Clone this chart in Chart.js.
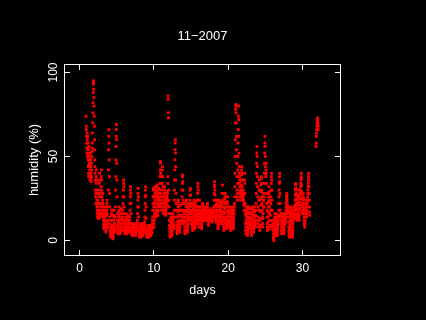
<!DOCTYPE html>
<html>
<head>
<meta charset="utf-8">
<title>11-2007</title>
<script src="https://cdn.jsdelivr.net/npm/chart.js@4/dist/chart.umd.min.js"></script>
<style>
  html, body { margin: 0; padding: 0; background: #000; }
  canvas { display: block; }
</style>
</head>
<body>
<canvas id="chart" width="426" height="320"></canvas>
<script>
// humidity readings, one every 30 minutes, starting late on day 0
const startDay = 0.875;
const stepDay = 1 / 48;
const humidity = [
  74, 68, 66, 62, 58, 55,
  52, 64, 60, 55, 50, 62, 58, 54, 48, 44, 40, 38, 45, 52, 56, 50, 46, 42, 38, 36, 40, 44, 48, 52, 48, 44, 40, 37, 35, 38, 42, 46, 50, 53, 55, 58, 64, 70, 76, 82, 88, 93, 95, 94, 90, 85, 80, 74,
  68, 60, 54, 48, 44, 40, 36, 30, 26, 22, 28, 34, 38, 42, 36, 30, 24, 20, 18, 16, 14, 20, 24, 28, 22, 18, 15, 13, 17, 22, 26, 30, 34, 40, 36, 28, 22, 18, 15, 14, 16, 20, 26, 32, 38, 42, 36, 30,
  26, 22, 18, 16, 20, 24, 28, 22, 18, 15, 14, 12, 10, 8, 7, 9, 12, 14, 16, 18, 20, 17, 14, 11, 9, 7, 6, 5, 7, 9, 12, 15, 18, 22, 24, 20, 16, 12, 10, 8, 12, 20, 30, 42, 54, 62, 66, 58,
  48, 38, 28, 20, 14, 10, 8, 6, 4, 3, 2, 3, 5, 8, 12, 16, 18, 15, 12, 9, 7, 5, 3, 2, 1, 2, 4, 6, 9, 12, 15, 18, 14, 10, 8, 6, 5, 7, 10, 14, 20, 30, 38, 48, 56, 62, 66, 69,
  60, 46, 36, 26, 16, 12, 9, 7, 5, 4, 6, 8, 11, 14, 17, 20, 18, 15, 12, 10, 8, 6, 5, 4, 6, 8, 10, 13, 16, 19, 16, 13, 10, 8, 7, 6, 8, 10, 12, 14, 18, 22, 26, 30, 34, 36, 32, 26,
  20, 16, 12, 10, 8, 6, 5, 4, 5, 7, 9, 12, 14, 16, 13, 10, 8, 6, 5, 4, 5, 6, 8, 10, 12, 14, 15, 12, 10, 8, 7, 6, 5, 6, 8, 10, 12, 14, 18, 22, 26, 30, 32, 28, 22, 16, 10, 7,
  6, 5, 4, 3, 4, 5, 6, 8, 9, 10, 8, 7, 5, 4, 3, 3, 4, 5, 7, 9, 10, 9, 7, 6, 5, 4, 3, 4, 5, 6, 8, 9, 10, 8, 7, 6, 8, 10, 12, 16, 20, 24, 28, 31, 26, 20, 14, 8,
  6, 5, 4, 3, 2, 3, 4, 6, 8, 10, 9, 7, 6, 4, 3, 2, 3, 5, 7, 9, 10, 8, 6, 5, 4, 3, 4, 5, 7, 8, 10, 9, 8, 6, 5, 7, 9, 11, 14, 18, 22, 26, 30, 32, 27, 20, 13, 8,
  6, 5, 4, 3, 2, 2, 3, 4, 6, 8, 9, 7, 6, 4, 3, 2, 3, 4, 5, 7, 9, 8, 6, 5, 4, 3, 3, 4, 6, 7, 9, 8, 6, 5, 4, 5, 7, 8, 10, 12, 14, 18, 22, 26, 30, 31, 26, 20,
  14, 10, 8, 12, 16, 20, 24, 28, 32, 30, 26, 22, 18, 16, 14, 15, 18, 22, 26, 29, 32, 33, 30, 27, 24, 20, 17, 15, 18, 21, 25, 28, 31, 28, 24, 20, 22, 26, 30, 34, 38, 42, 46, 47, 40, 34, 28, 24,
  20, 18, 22, 26, 30, 34, 38, 42, 44, 38, 32, 26, 22, 18, 16, 18, 20, 22, 24, 26, 28, 30, 32, 28, 24, 22, 20, 18, 16, 15, 17, 19, 21, 23, 25, 27, 29, 26, 23, 21, 24, 28, 34, 38, 86, 84, 76, 73,
  30, 24, 20, 16, 12, 9, 7, 5, 3, 2, 3, 5, 8, 11, 14, 16, 13, 10, 8, 6, 4, 3, 4, 6, 8, 10, 12, 14, 16, 13, 10, 8, 7, 9, 14, 18, 24, 30, 36, 42, 48, 54, 58, 60, 52, 44, 36, 28,
  22, 18, 14, 11, 9, 7, 5, 4, 6, 8, 11, 14, 17, 20, 23, 24, 21, 18, 15, 12, 10, 8, 6, 5, 7, 9, 12, 15, 18, 21, 18, 15, 12, 10, 12, 14, 18, 22, 26, 30, 34, 38, 39, 35, 30, 24, 18, 14,
  12, 10, 16, 22, 18, 14, 11, 8, 6, 5, 4, 6, 8, 11, 14, 17, 20, 23, 24, 21, 18, 15, 12, 9, 7, 5, 6, 8, 10, 13, 16, 19, 22, 20, 17, 14, 12, 14, 16, 18, 21, 24, 27, 30, 31, 27, 22, 16,
  12, 10, 14, 18, 22, 20, 17, 14, 11, 9, 7, 6, 8, 10, 13, 16, 19, 22, 24, 21, 18, 15, 12, 10, 8, 7, 9, 11, 14, 17, 20, 23, 21, 18, 15, 13, 11, 10, 12, 14, 16, 20, 24, 28, 32, 34, 30, 24,
  18, 14, 10, 8, 12, 16, 20, 24, 20, 16, 14, 12, 13, 15, 17, 18, 16, 14, 12, 10, 8, 7, 9, 11, 13, 15, 17, 19, 21, 22, 20, 18, 16, 14, 13, 12, 14, 16, 18, 19, 17, 15, 13, 12, 14, 16, 18, 20,
  18, 16, 14, 13, 12, 14, 16, 17, 18, 20, 22, 20, 18, 16, 14, 12, 10, 9, 11, 13, 15, 16, 17, 18, 17, 16, 15, 14, 13, 12, 13, 14, 16, 18, 19, 17, 15, 14, 13, 12, 11, 12, 14, 15, 16, 17, 18, 16,
  15, 14, 16, 18, 20, 24, 28, 32, 35, 33, 30, 27, 24, 21, 18, 15, 13, 11, 12, 14, 16, 18, 20, 22, 24, 21, 18, 15, 12, 10, 8, 7, 9, 11, 14, 17, 20, 23, 24, 21, 18, 15, 13, 11, 13, 15, 17, 19,
  21, 23, 20, 17, 14, 12, 10, 12, 16, 22, 28, 33, 28, 24, 20, 17, 14, 12, 10, 8, 6, 8, 10, 13, 16, 19, 22, 25, 28, 26, 23, 20, 17, 14, 12, 10, 8, 7, 9, 11, 14, 17, 20, 23, 26, 22, 18, 15,
  12, 10, 9, 8, 10, 12, 14, 16, 18, 20, 18, 16, 14, 12, 10, 8, 7, 6, 8, 10, 12, 14, 16, 18, 20, 19, 17, 15, 13, 11, 10, 9, 8, 7, 8, 10, 12, 14, 16, 18, 20, 22, 26, 32, 40, 50, 60, 70,
  78, 81, 80, 76, 70, 62, 54, 46, 38, 30, 26, 24, 28, 34, 42, 50, 58, 66, 74, 80, 72, 62, 52, 44, 40, 38, 36, 34, 32, 30, 28, 26, 24, 26, 28, 30, 33, 36, 39, 42, 44, 40, 36, 32, 29, 27, 25, 24,
  26, 28, 30, 27, 24, 21, 18, 22, 28, 36, 40, 34, 28, 22, 16, 10, 6, 4, 8, 12, 15, 18, 20, 17, 14, 11, 8, 6, 4, 3, 5, 7, 10, 13, 16, 19, 20, 17, 14, 11, 9, 7, 9, 11, 14, 17, 19, 16,
  13, 11, 9, 7, 5, 4, 3, 5, 7, 10, 13, 16, 19, 20, 18, 15, 12, 10, 8, 6, 5, 7, 9, 12, 15, 18, 20, 17, 14, 11, 9, 8, 10, 12, 15, 18, 22, 28, 34, 40, 46, 52, 56, 50, 44, 38, 32, 26,
  20, 14, 10, 8, 12, 18, 24, 30, 36, 30, 24, 18, 12, 8, 6, 9, 13, 17, 21, 25, 29, 33, 37, 38, 34, 30, 26, 22, 18, 14, 10, 8, 10, 13, 16, 20, 24, 28, 24, 20, 26, 34, 40, 46, 52, 58, 62, 56,
  50, 44, 40, 38, 42, 46, 40, 34, 28, 22, 18, 14, 10, 8, 6, 8, 11, 14, 17, 20, 23, 26, 29, 32, 28, 24, 20, 16, 12, 9, 7, 9, 12, 15, 18, 22, 26, 30, 34, 38, 40, 36, 30, 24, 18, 12, 8, 10,
  12, 9, 6, 4, 2, 1, 0, 2, 4, 7, 10, 13, 16, 14, 11, 8, 6, 4, 3, 5, 8, 11, 14, 16, 13, 10, 8, 6, 4, 3, 5, 7, 9, 12, 15, 12, 10, 14, 18, 22, 26, 30, 34, 38, 40, 35, 28, 22,
  18, 15, 14, 16, 14, 12, 10, 8, 6, 5, 4, 6, 8, 10, 12, 14, 16, 14, 12, 10, 8, 6, 5, 4, 5, 7, 9, 11, 13, 15, 16, 14, 12, 10, 12, 14, 16, 18, 20, 22, 24, 26, 28, 27, 25, 23, 21, 19,
  17, 16, 18, 20, 17, 14, 11, 8, 6, 4, 3, 2, 3, 5, 7, 9, 11, 13, 15, 17, 19, 20, 18, 16, 14, 12, 10, 8, 6, 4, 3, 2, 4, 6, 8, 10, 12, 14, 16, 18, 20, 18, 16, 14, 13, 15, 18, 21,
  24, 27, 30, 33, 34, 31, 28, 25, 22, 19, 16, 14, 12, 13, 15, 18, 21, 24, 27, 30, 26, 22, 19, 16, 14, 12, 13, 15, 17, 19, 21, 23, 25, 27, 28, 30, 32, 34, 36, 38, 40, 37, 33, 29, 25, 21, 18, 16,
  18, 20, 22, 24, 26, 28, 25, 22, 19, 16, 14, 12, 10, 9, 8, 10, 12, 14, 16, 18, 20, 22, 24, 22, 20, 18, 16, 14, 16, 18, 20, 22, 24, 26, 28, 30, 32, 34, 36, 38, 40, 36, 32, 28, 24, 20, 17, 15
];
// readings after the gap, end of the month
const lateStartDay = 31.83;
const humidityLate = [56, 58, 62, 64, 66, 68, 70, 72, 73, 72, 71, 70, 69, 68, 66];

const xTicks = [0, 10, 20, 30];
const yTicks = [0, 50, 100];

const points = humidity.map((h, i) => ({ x: startDay + i * stepDay, y: h }))
  .concat(humidityLate.map((h, i) => ({ x: lateStartDay + i * stepDay, y: h })));

// white box with inward ticks on all four sides
const frame = {
  id: 'frame',
  afterDraw(chart) {
    const { ctx, chartArea: a, scales: { x, y } } = chart;
    ctx.save();
    ctx.strokeStyle = '#ffffff';
    ctx.lineWidth = 1;
    ctx.strokeRect(a.left + 0.5, a.top + 0.5, a.right - a.left - 1, a.bottom - a.top - 1);
    ctx.beginPath();
    x.ticks.forEach(t => {
      const px = Math.floor(x.getPixelForValue(t.value)) + 0.5;
      ctx.moveTo(px, a.top); ctx.lineTo(px, a.top + 6);
      ctx.moveTo(px, a.bottom); ctx.lineTo(px, a.bottom - 6);
    });
    y.ticks.forEach(t => {
      const py = Math.floor(y.getPixelForValue(t.value)) + 0.5;
      ctx.moveTo(a.left, py); ctx.lineTo(a.left + 6, py);
      ctx.moveTo(a.right, py); ctx.lineTo(a.right - 6, py);
    });
    ctx.stroke();
    ctx.restore();
  }
};

new Chart(document.getElementById('chart'), {
  type: 'scatter',
  data: {
    datasets: [{
      data: points,
      pointStyle: 'rect',
      pointRadius: 2,
      pointBorderWidth: 0,
      pointBackgroundColor: '#ff0000'
    }]
  },
  options: {
    responsive: false,
    animation: false,
    devicePixelRatio: 1,
    layout: { padding: { left: 0, right: 85, top: 0, bottom: 0 } },
    plugins: {
      legend: { display: false },
      tooltip: { enabled: false },
      title: {
        display: true,
        text: '11\u22122007',
        color: '#ffffff',
        fullSize: false,
        font: { family: 'Liberation Sans', size: 13, weight: 'normal' },
        padding: { top: 28.4, bottom: 20 }
      }
    },
    scales: {
      x: {
        type: 'linear',
        min: -2.085,
        max: 35.18,
        grid: { display: false },
        border: { display: false },
        afterBuildTicks: s => { s.ticks = xTicks.map(v => ({ value: v })); },
        afterFit: s => { s.height = 64; },
        ticks: {
          color: '#ffffff',
          padding: -3,
          maxRotation: 0,
          font: { family: 'Liberation Sans', size: 12 }
        },
        title: {
          display: true,
          text: 'days',
          color: '#ffffff',
          font: { family: 'Liberation Sans', size: 12.5 },
          padding: { top: 0, bottom: 21.5 }
        }
      },
      y: {
        type: 'linear',
        min: -9.226,
        max: 105.06,
        grid: { display: false },
        border: { display: false },
        afterBuildTicks: s => { s.ticks = yTicks.map(v => ({ value: v })); },
        afterFit: s => { s.width = 64; },
        ticks: {
          color: '#ffffff',
          padding: -7.7,
          minRotation: 90,
          maxRotation: 90,
          crossAlign: 'center',
          font: { family: 'Liberation Sans', size: 12 }
        },
        title: {
          display: true,
          text: 'humidity (%)',
          color: '#ffffff',
          font: { family: 'Liberation Sans', size: 13 },
          padding: { top: 26.5, bottom: 0 }
        }
      }
    }
  },
  plugins: [frame]
});
</script>
</body>
</html>
